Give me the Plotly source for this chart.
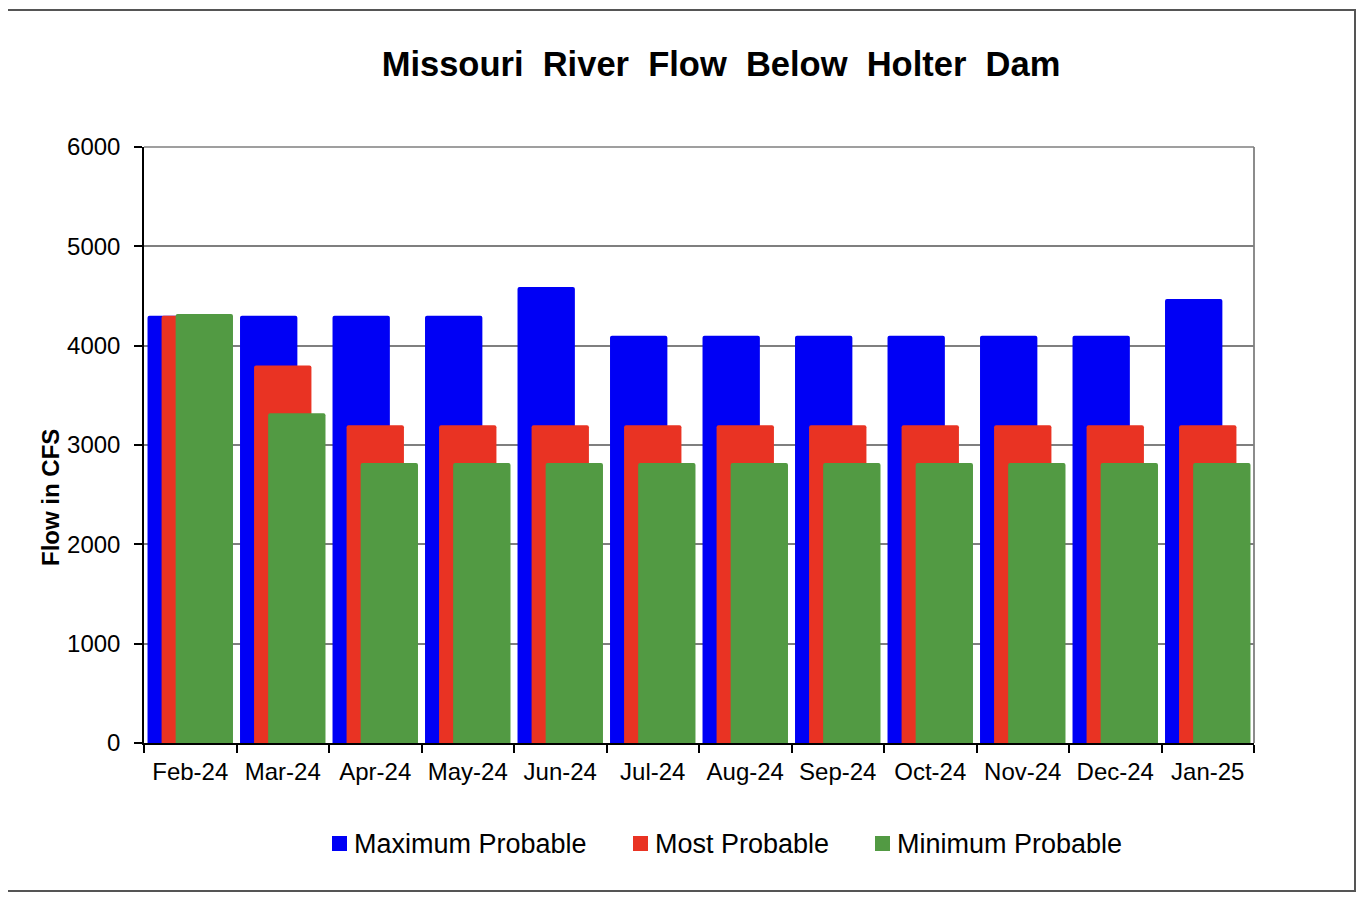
import plotly.graph_objects as go

months = ["Feb-24", "Mar-24", "Apr-24", "May-24", "Jun-24", "Jul-24",
          "Aug-24", "Sep-24", "Oct-24", "Nov-24", "Dec-24", "Jan-25"]
max_probable = [4300, 4300, 4300, 4300, 4590, 4100, 4100, 4100, 4100, 4100, 4100, 4470]
most_probable = [4300, 3800, 3200, 3200, 3200, 3200, 3200, 3200, 3200, 3200, 3200, 3200]
min_probable = [4320, 3320, 2820, 2820, 2820, 2820, 2820, 2820, 2820, 2820, 2820, 2820]
series_names = ["Maximum Probable", "Most Probable", "Minimum Probable"]

FONT = "Liberation Sans, Arial, sans-serif"
W = 0.62
colors = ["#0000F5", "#E93323", "#529A43"]
shifts = [-0.152, 0.0, 0.152]
values = [max_probable, most_probable, min_probable]

fig = go.Figure()
for name, vals, col, shift in zip(series_names, values, colors, shifts):
    fig.add_trace(go.Bar(
        x=months, y=vals, name=name, showlegend=False,
        marker=dict(color=col, line=dict(width=0), cornerradius=2),
        width=W, offset=shift - W / 2,
    ))

# page body has an 8px margin; reference coordinates are page pixels
OFF = 8
FW, FH = 1364 - 2 * OFF, 900 - 2 * OFF
L, R, T, B = 144, 1254, 147, 743
pw, ph = R - L, B - T


def px(x):
    return (x - L) / pw


def py(y):
    return (B - y) / ph


shapes = [
    dict(type="rect", xref="paper", yref="paper",
         x0=px(6), x1=px(1355), y0=py(891), y1=py(10),
         line=dict(color="#555555", width=2), layer="below"),
    dict(type="line", xref="paper", yref="paper",
         x0=1, x1=1, y0=0, y1=1, line=dict(color="#8C8C8C", width=2), layer="below"),
    dict(type="line", xref="paper", yref="paper",
         x0=0, x1=1, y0=1, y1=1, line=dict(color="#7F7F7F", width=1.5), layer="below"),
]
annotations = [
    dict(text="<b>Flow in CFS</b>", xref="paper", yref="paper",
         x=px(50), y=py(498), textangle=-90, showarrow=False,
         xanchor="center", yanchor="middle",
         font=dict(size=24, family=FONT, color="black")),
]

# custom legend
sq_left = [332, 633, 875]
for name, col, xl in zip(series_names, colors, sq_left):
    shapes.append(dict(type="rect", xref="paper", yref="paper",
                       x0=px(xl), x1=px(xl + 15), y0=py(851), y1=py(836),
                       fillcolor=col, line=dict(width=0)))
    annotations.append(dict(text=name, xref="paper", yref="paper",
                            x=px(xl + 20), y=py(843.5), showarrow=False,
                            xanchor="left", yanchor="middle",
                            font=dict(size=27, family=FONT, color="black")))

sp = "\u00a0\u00a0"
title_text = "<b>" + sp.join(["Missouri", "River", "Flow", "Below", "Holter", "Dam"]) + "</b>"

fig.update_layout(
    width=FW, height=FH,
    margin=dict(l=L - OFF, r=FW - (R - OFF), t=T - OFF, b=FH - (B - OFF), pad=0),
    paper_bgcolor="white", plot_bgcolor="white",
    barmode="overlay",
    showlegend=False,
    font=dict(family=FONT, color="black"),
    title=dict(
        text=title_text,
        x=(721 - OFF) / FW, xanchor="center",
        y=1 - (64 - OFF) / FH, yanchor="middle",
        font=dict(size=34.5, family=FONT, color="black"),
    ),
    xaxis=dict(
        type="category", tickson="boundaries", ticks="outside", ticklen=8,
        tickcolor="black", tickwidth=1.5, ticklabelstandoff=6,
        showline=True, linecolor="black", linewidth=1.5,
        showgrid=False, tickfont=dict(size=24, family=FONT, color="black"),
        range=[-0.5, 11.5],
    ),
    yaxis=dict(
        range=[0, 6000], dtick=1000, tickformat="d",
        ticks="outside", ticklen=8, tickcolor="black", tickwidth=1.5,
        ticklabelstandoff=9,
        showline=True, linecolor="black", linewidth=1.5,
        showgrid=True, gridcolor="#7F7F7F", gridwidth=1.5,
        tickfont=dict(size=24, family=FONT, color="black"),
        zeroline=False,
    ),
    shapes=shapes,
    annotations=annotations,
)

fig.write_html("out.html")
